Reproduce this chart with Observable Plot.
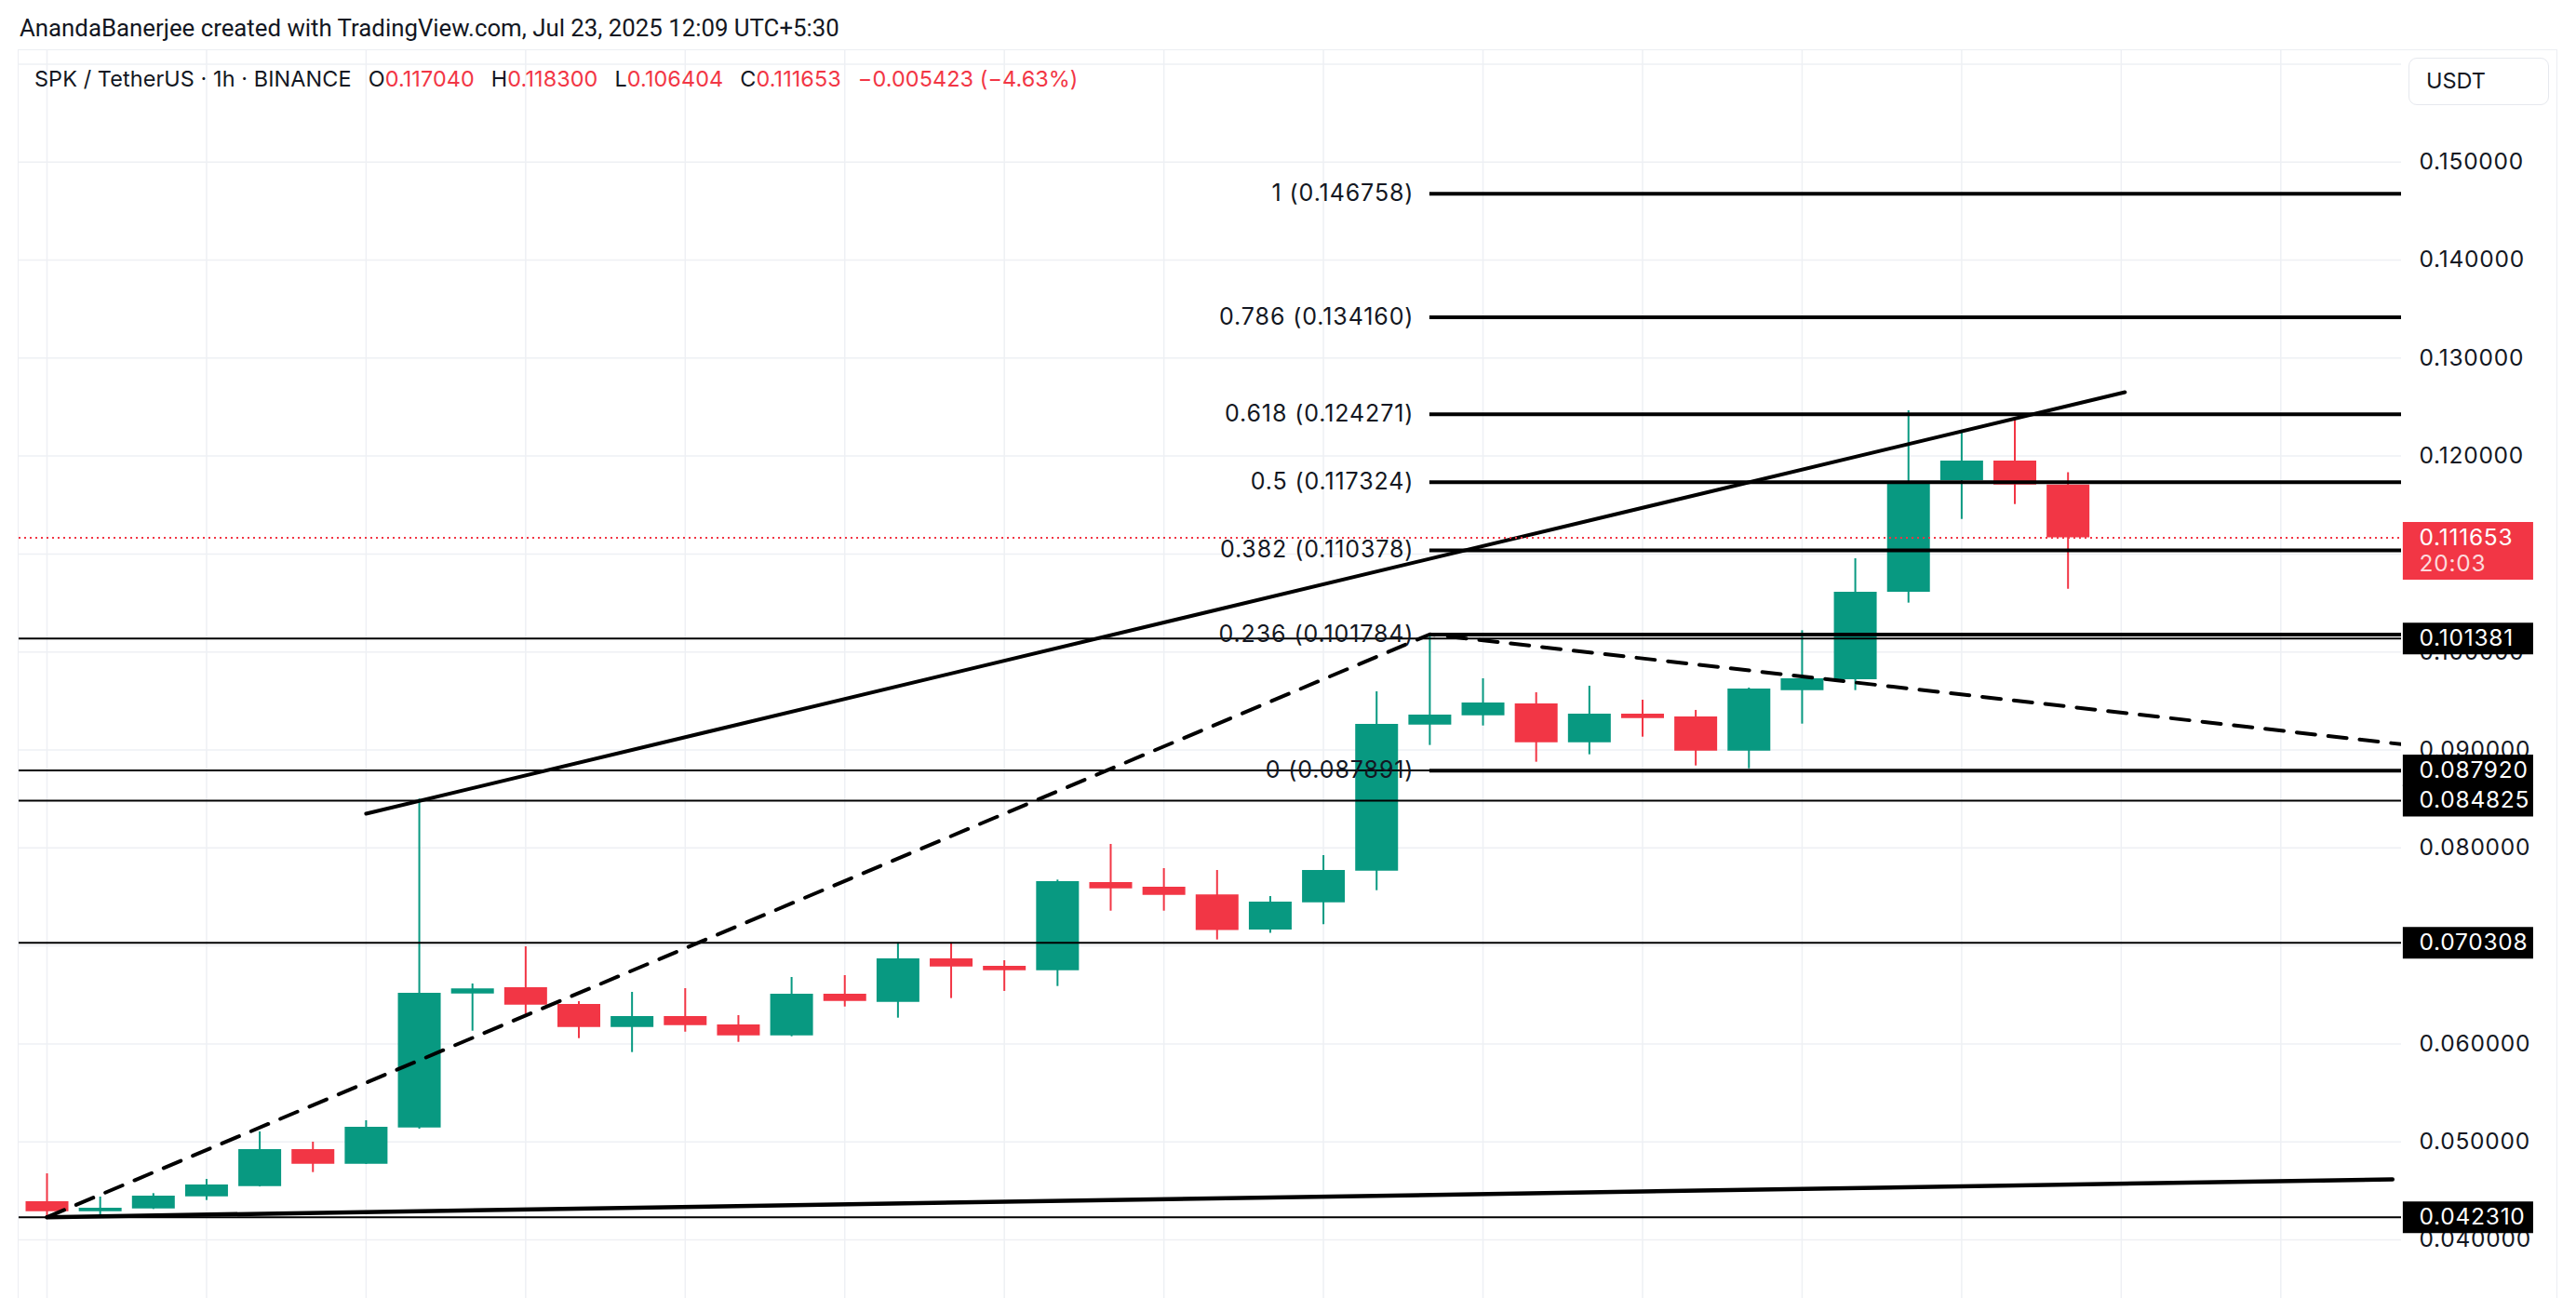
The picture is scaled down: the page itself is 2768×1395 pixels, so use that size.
<!DOCTYPE html>
<html><head><meta charset="utf-8">
<script src="https://cdn.jsdelivr.net/npm/d3@7"></script>
<script src="https://cdn.jsdelivr.net/npm/@observablehq/plot@0.6"></script>
<style>
html,body{margin:0;padding:0;background:#fff;width:2768px;height:1395px;overflow:hidden;font-family:Inter,"Noto Sans",sans-serif;color:#131722;}
#header{height:53px;position:relative;}
#header .t{position:absolute;left:21px;top:13px;font-family:Roboto,Inter,sans-serif;font-size:25.8px;line-height:34px;white-space:nowrap;}
#chart{position:relative;display:flex;height:1342px;}
#chart svg{max-width:none;display:block;}
#legend{position:absolute;left:37px;top:15px;font-size:23.4px;line-height:34px;white-space:nowrap;letter-spacing:0.1px;}
#legend .r{color:#F23645;}
#legend .g{margin-left:18px;}
#usdt{position:absolute;left:2588px;top:9px;width:151px;height:51px;border:1.5px solid #e6e8ee;border-radius:9px;box-sizing:border-box;font-size:23.5px;line-height:48px;padding-left:18px;background:#fff;}
#border{position:absolute;left:19px;top:0;width:2729px;height:1342px;border-left:1.5px solid #eceef2;border-top:1.5px solid #eceef2;border-right:1.5px solid #eceef2;box-sizing:border-box;pointer-events:none;}
</style></head>
<body>
<div id="header"><div class="t">AnandaBanerjee created with TradingView.com, Jul 23, 2025 12:09 UTC+5:30</div></div>
<div id="chart"></div>
<script>
// ---- data ----
const candleIndex = d3.range(39);
const opens  = [0.04389,0.04288,0.04316,0.04440,0.04544,0.04921,0.04772,0.05142,0.06510,0.06574,0.06403,0.06168,0.06279,0.06194,0.06083,0.06507,0.06425,0.06868,0.06792,0.06747,0.07647,0.07599,0.07522,0.07162,0.07441,0.07764,0.09255,0.09349,0.09470,0.09074,0.09366,0.09337,0.08988,0.09606,0.09717,0.10610,0.11749,0.11949,0.117040];
const highs  = [0.04674,0.04437,0.04472,0.04617,0.05102,0.04997,0.05216,0.08499,0.06612,0.06991,0.06431,0.06526,0.06564,0.06289,0.06678,0.06697,0.07032,0.07032,0.06849,0.07672,0.08036,0.07789,0.07770,0.07504,0.07922,0.09594,0.10180,0.09727,0.09584,0.09651,0.09508,0.09404,0.09632,0.10217,0.10952,0.12462,0.12240,0.12376,0.118300];
const lows   = [0.04231,0.04240,0.04310,0.04402,0.04540,0.04687,0.04770,0.05130,0.06130,0.06300,0.06054,0.05912,0.06120,0.06016,0.06073,0.06377,0.06263,0.06463,0.06536,0.06586,0.07355,0.07355,0.07061,0.07129,0.07217,0.07564,0.09046,0.09245,0.08875,0.08951,0.09131,0.08837,0.08808,0.09264,0.09606,0.10499,0.11353,0.11505,0.106404];
const closes = [0.04288,0.04323,0.04446,0.04560,0.04921,0.04772,0.05149,0.06517,0.06561,0.06396,0.06168,0.06279,0.06187,0.06083,0.06507,0.06434,0.06868,0.06785,0.06747,0.07656,0.07583,0.07517,0.07158,0.07447,0.07770,0.09261,0.09356,0.09480,0.09074,0.09366,0.09321,0.08988,0.09622,0.09727,0.10610,0.11718,0.11949,0.11705,0.111653];

const fibRatios = ["1","0.786","0.618","0.5","0.382","0.236","0"];
const fibValues = [0.146758,0.134160,0.124271,0.117324,0.110378,0.101784,0.087891];
const fibStartIndex = 26;

const rayLevels = [0.101381,0.087920,0.084825,0.070308,0.042310];
const lastPrice = 0.111653;
const countdown = "20:03";

const upperTrendIdx = [6, 39.07];
const upperTrendVal = [0.0835, 0.12651];
const dashedIdx = [0, 26, 44.4];
const dashedVal = [0.04231, 0.1018, 0.0905];
const lowerTrendIdx = [0, 44.1];
const lowerTrendVal = [0.04231, 0.04617];

const yTickLabels = [0.04,0.05,0.06,0.07,0.08,0.09,0.10,0.11,0.12,0.13,0.14,0.15];
const yGrid = [0.04,0.05,0.06,0.07,0.08,0.09,0.10,0.11,0.12,0.13,0.14,0.15,0.16];
const xGrid = d3.range(0, 43, 3);

const legendParts = {symbol:"SPK / TetherUS · 1h · BINANCE", o:"0.117040", h:"0.118300", l:"0.106404", c:"0.111653", chg:"−0.005423 (−4.63%)"};

// ---- build ----
const candles = candleIndex.map(i => ({i, open: opens[i], high: highs[i], low: lows[i], close: closes[i],
  color: closes[i] >= opens[i] ? "#089981" : "#F23645"}));
const fib = fibRatios.map((r, k) => ({ratio: r, value: fibValues[k]}));
const upper = upperTrendIdx.map((i, k) => ({i, v: upperTrendVal[k]}));
const dashed = dashedIdx.map((i, k) => ({i, v: dashedVal[k]}));
const lower = lowerTrendIdx.map((i, k) => ({i, v: lowerTrendVal[k]}));

const W = 2768, H = 1395, HEADER = 53, AXIS_W = 188;
const xDomain = [-0.525, 44.27];
const yDomain = [0.034017, 0.161463];
const fmt = d3.format(".6f");
const grid = "#eef0f4";
const fontFamily = "Inter, 'Noto Sans', sans-serif";

const main = Plot.plot({
  width: W - AXIS_W, height: H - HEADER,
  marginLeft: 20, marginRight: 0, marginTop: 0, marginBottom: 0,
  x: {domain: xDomain, axis: null},
  y: {domain: yDomain, axis: null},
  style: {fontFamily, fontSize: "25px", letterSpacing: "0.9px", background: "transparent", overflow: "visible"},
  marks: [
    Plot.ruleY(yGrid, {stroke: grid, strokeWidth: 1.5}),
    Plot.ruleX(xGrid, {stroke: grid, strokeWidth: 1.5}),
    Plot.ruleX(candles, {x: "i", y1: "low", y2: "high", stroke: "color", strokeWidth: 2}),
    Plot.ruleX(candles, {x: "i", y1: "open", y2: "close", stroke: "color", strokeWidth: 46}),
    Plot.ruleY(rayLevels, {stroke: "#000", strokeWidth: 2}),
    Plot.ruleY(fib, {y: "value", x1: fibStartIndex, x2: xDomain[1], stroke: "#000", strokeWidth: 4}),
    Plot.line(lower, {x: "i", y: "v", stroke: "#000", strokeWidth: 4.5, clip: true}),
    Plot.line(upper, {x: "i", y: "v", stroke: "#000", strokeWidth: 4, clip: true}),
    Plot.line(dashed, {x: "i", y: "v", stroke: "#000", strokeWidth: 4, strokeDasharray: "20,14", clip: true}),
    Plot.ruleY([lastPrice], {stroke: "#F23645", strokeWidth: 2, strokeDasharray: "2,4"}),
    Plot.text(fib, {x: fibStartIndex, y: "value", text: d => `${d.ratio} (${fmt(d.value)})`, textAnchor: "end", dx: -17, fill: "#131722", fontSize: 25})
  ]
});

const axis = Plot.plot({
  width: AXIS_W, height: H - HEADER,
  margin: 0,
  x: {domain: [0, 1], axis: null},
  y: {domain: yDomain, axis: null},
  style: {fontFamily, fontSize: "24.5px", letterSpacing: "0.75px", background: "transparent", overflow: "visible"},
  marks: [
    Plot.text(yTickLabels, {x: 0, y: d => d, text: d => fmt(d), textAnchor: "start", dx: 19, fill: "#131722", fontSize: 24.5}),
    Plot.ruleY(rayLevels, {x1: 0.01, x2: 0.755, stroke: "#000", strokeWidth: 34}),
    Plot.text(rayLevels, {x: 0, y: d => d, text: d => fmt(d), textAnchor: "start", dx: 19, fill: "#fff", fontSize: 24.5}),
    Plot.ruleY([lastPrice], {x1: 0.01, x2: 0.755, stroke: "#F23645", strokeWidth: 62, dy: 14}),
    Plot.text([lastPrice], {x: 0, y: d => d, text: d => fmt(d), textAnchor: "start", dx: 19, fill: "#fff", fontSize: 24.5}),
    Plot.text([countdown], {x: 0, y: () => lastPrice, text: d => d, textAnchor: "start", dx: 19, dy: 28, fill: "rgba(255,255,255,0.82)", fontSize: 24.5})
  ]
});

const chart = document.getElementById("chart");
chart.appendChild(main);
chart.appendChild(axis);

const border = document.createElement("div"); border.id = "border"; chart.appendChild(border);
const usdt = document.createElement("div"); usdt.id = "usdt"; usdt.textContent = "USDT"; chart.appendChild(usdt);
const legend = document.createElement("div"); legend.id = "legend";
legend.innerHTML = `${legendParts.symbol}<span class="g">O</span><span class="r">${legendParts.o}</span><span class="g">H</span><span class="r">${legendParts.h}</span><span class="g">L</span><span class="r">${legendParts.l}</span><span class="g">C</span><span class="r">${legendParts.c}</span><span class="g r">${legendParts.chg}</span>`;
chart.appendChild(legend);
</script>
</body></html>
